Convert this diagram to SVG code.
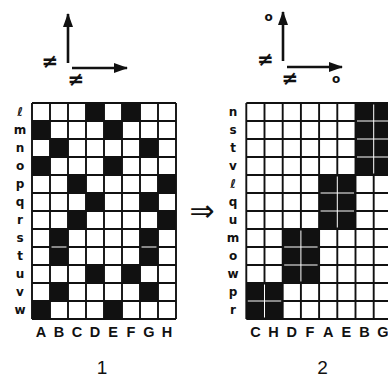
<svg xmlns="http://www.w3.org/2000/svg" width="388" height="379" viewBox="0 0 388 379">
<style>
.grid{fill:none;stroke:#111;stroke-width:1.9}
.blk{fill:#111}
.sep{stroke:#fff;stroke-width:1;fill:none}
.ax{stroke:#111;stroke-width:2.6;fill:none}
.rl{font-family:"DejaVu Sans",sans-serif;font-weight:bold;font-size:12px;fill:#111;text-anchor:middle}
.cl{font-family:"Liberation Sans",sans-serif;font-weight:bold;font-size:14.5px;fill:#111;text-anchor:middle}
.sym{font-family:"DejaVu Sans",sans-serif;font-weight:bold;font-size:20px;fill:#111;text-anchor:middle}
.num{font-family:"Liberation Sans",sans-serif;font-size:19px;fill:#111;text-anchor:middle}
</style>
<defs>
<marker id="ah" markerUnits="userSpaceOnUse" markerWidth="16" markerHeight="12" refX="13" refY="5" orient="auto">
<path d="M0,0 L14,5 L0,10 z" fill="#111"/>
</marker>
<rect id="c" width="18" height="18"/>
</defs>
<rect width="388" height="379" fill="#fff"/>

<g id="axes1">
<line class="ax" x1="68" y1="63" x2="68" y2="14" marker-end="url(#ah)"/>
<line class="ax" x1="72" y1="68" x2="127" y2="68" marker-end="url(#ah)"/>
<text class="sym" x="50" y="67.5">≠</text>
<text class="sym" x="76" y="85.5">≠</text>
</g>

<g id="axes2">
<line class="ax" x1="283" y1="61" x2="283" y2="12" marker-end="url(#ah)"/>
<line class="ax" x1="287" y1="67" x2="342" y2="67" marker-end="url(#ah)"/>
<text class="sym" x="265.5" y="65.8">≠</text>
<text class="sym" x="290" y="85">≠</text>
<text class="rl" x="268.7" y="20.7" font-size="13">o</text>
<text class="rl" x="336" y="83" font-size="13">o</text>
</g>

<g id="matrix1">
<path class="grid" d="M32,103V319M50,103V319M68,103V319M86,103V319M104,103V319M122,103V319M140,103V319M158,103V319M176,103V319M32,103H176M32,121H176M32,139H176M32,157H176M32,175H176M32,193H176M32,211H176M32,229H176M32,247H176M32,265H176M32,283H176M32,301H176M32,319H176"/>
<g class="blk">
<use href="#c" x="86" y="103"/><use href="#c" x="122" y="103"/>
<use href="#c" x="32" y="121"/><use href="#c" x="104" y="121"/>
<use href="#c" x="50" y="139"/><use href="#c" x="140" y="139"/>
<use href="#c" x="32" y="157"/><use href="#c" x="104" y="157"/>
<use href="#c" x="68" y="175"/><use href="#c" x="158" y="175"/>
<use href="#c" x="86" y="193"/><use href="#c" x="140" y="193"/>
<use href="#c" x="68" y="211"/><use href="#c" x="158" y="211"/>
<use href="#c" x="50" y="229"/><use href="#c" x="140" y="229"/>
<use href="#c" x="50" y="247"/><use href="#c" x="140" y="247"/>
<use href="#c" x="86" y="265"/><use href="#c" x="122" y="265"/>
<use href="#c" x="50" y="283"/><use href="#c" x="140" y="283"/>
<use href="#c" x="32" y="301"/><use href="#c" x="104" y="301"/>
</g>
<path class="sep" d="M51.5,247H66.5M141.5,247H156.5"/>
<g class="rl">
<text x="20" y="116">ℓ</text>
<text x="20" y="134">m</text>
<text x="20" y="152">n</text>
<text x="20" y="170">o</text>
<text x="20" y="188">p</text>
<text x="20" y="206">q</text>
<text x="20" y="224">r</text>
<text x="20" y="242">s</text>
<text x="20" y="260">t</text>
<text x="20" y="278">u</text>
<text x="20" y="296">v</text>
<text x="20" y="314">w</text>
</g>
<g class="cl">
<text x="41" y="336.5">A</text>
<text x="59" y="336.5">B</text>
<text x="77" y="336.5">C</text>
<text x="95" y="336.5">D</text>
<text x="113" y="336.5">E</text>
<text x="131" y="336.5">F</text>
<text x="149" y="336.5">G</text>
<text x="167" y="336.5">H</text>
</g>
</g>

<g id="matrix2">
<path class="grid" d="M246.3,103V319M264.5,103V319M282.7,103V319M300.9,103V319M319.1,103V319M337.3,103V319M355.5,103V319M373.7,103V319M391.9,103V319M246.3,103H392M246.3,121H392M246.3,139H392M246.3,157H392M246.3,175H392M246.3,193H392M246.3,211H392M246.3,229H392M246.3,247H392M246.3,265H392M246.3,283H392M246.3,301H392M246.3,319H392"/>
<g class="blk">
<rect x="355.5" y="103" width="36.4" height="72"/>
<rect x="319.1" y="175" width="36.4" height="54"/>
<rect x="282.7" y="229" width="36.4" height="54"/>
<rect x="246.3" y="283" width="36.4" height="36"/>
</g>
<path class="sep" d="M373.7,104.5V173.5M357,121H390M357,139H390M357,157H390M337.3,176.5V227.5M320.6,193H354M320.6,211H354M300.9,230.5V281.5M284.2,247H317.6M284.2,265H317.6M264.5,284.5V317.5M247.8,301H281.2"/>
<g class="rl">
<text x="233" y="116">n</text>
<text x="233" y="134">s</text>
<text x="233" y="152">t</text>
<text x="233" y="170">v</text>
<text x="233" y="188">ℓ</text>
<text x="233" y="206">q</text>
<text x="233" y="224">u</text>
<text x="233" y="242">m</text>
<text x="233" y="260">o</text>
<text x="233" y="278">w</text>
<text x="233" y="296">p</text>
<text x="233" y="314">r</text>
</g>
<g class="cl">
<text x="255.4" y="337">C</text>
<text x="273.6" y="337">H</text>
<text x="291.8" y="337">D</text>
<text x="310" y="337">F</text>
<text x="328.2" y="337">A</text>
<text x="346.4" y="337">E</text>
<text x="364.6" y="337">B</text>
<text x="382.8" y="337">G</text>
</g>
</g>

<g id="connectors">
<text x="202" y="221" font-family="DejaVu Sans, sans-serif" font-size="30" fill="#111" text-anchor="middle">⇒</text>
</g>

<g id="captions">
<text class="num" x="102" y="374">1</text>
<text class="num" x="322.5" y="374">2</text>
</g>
</svg>
